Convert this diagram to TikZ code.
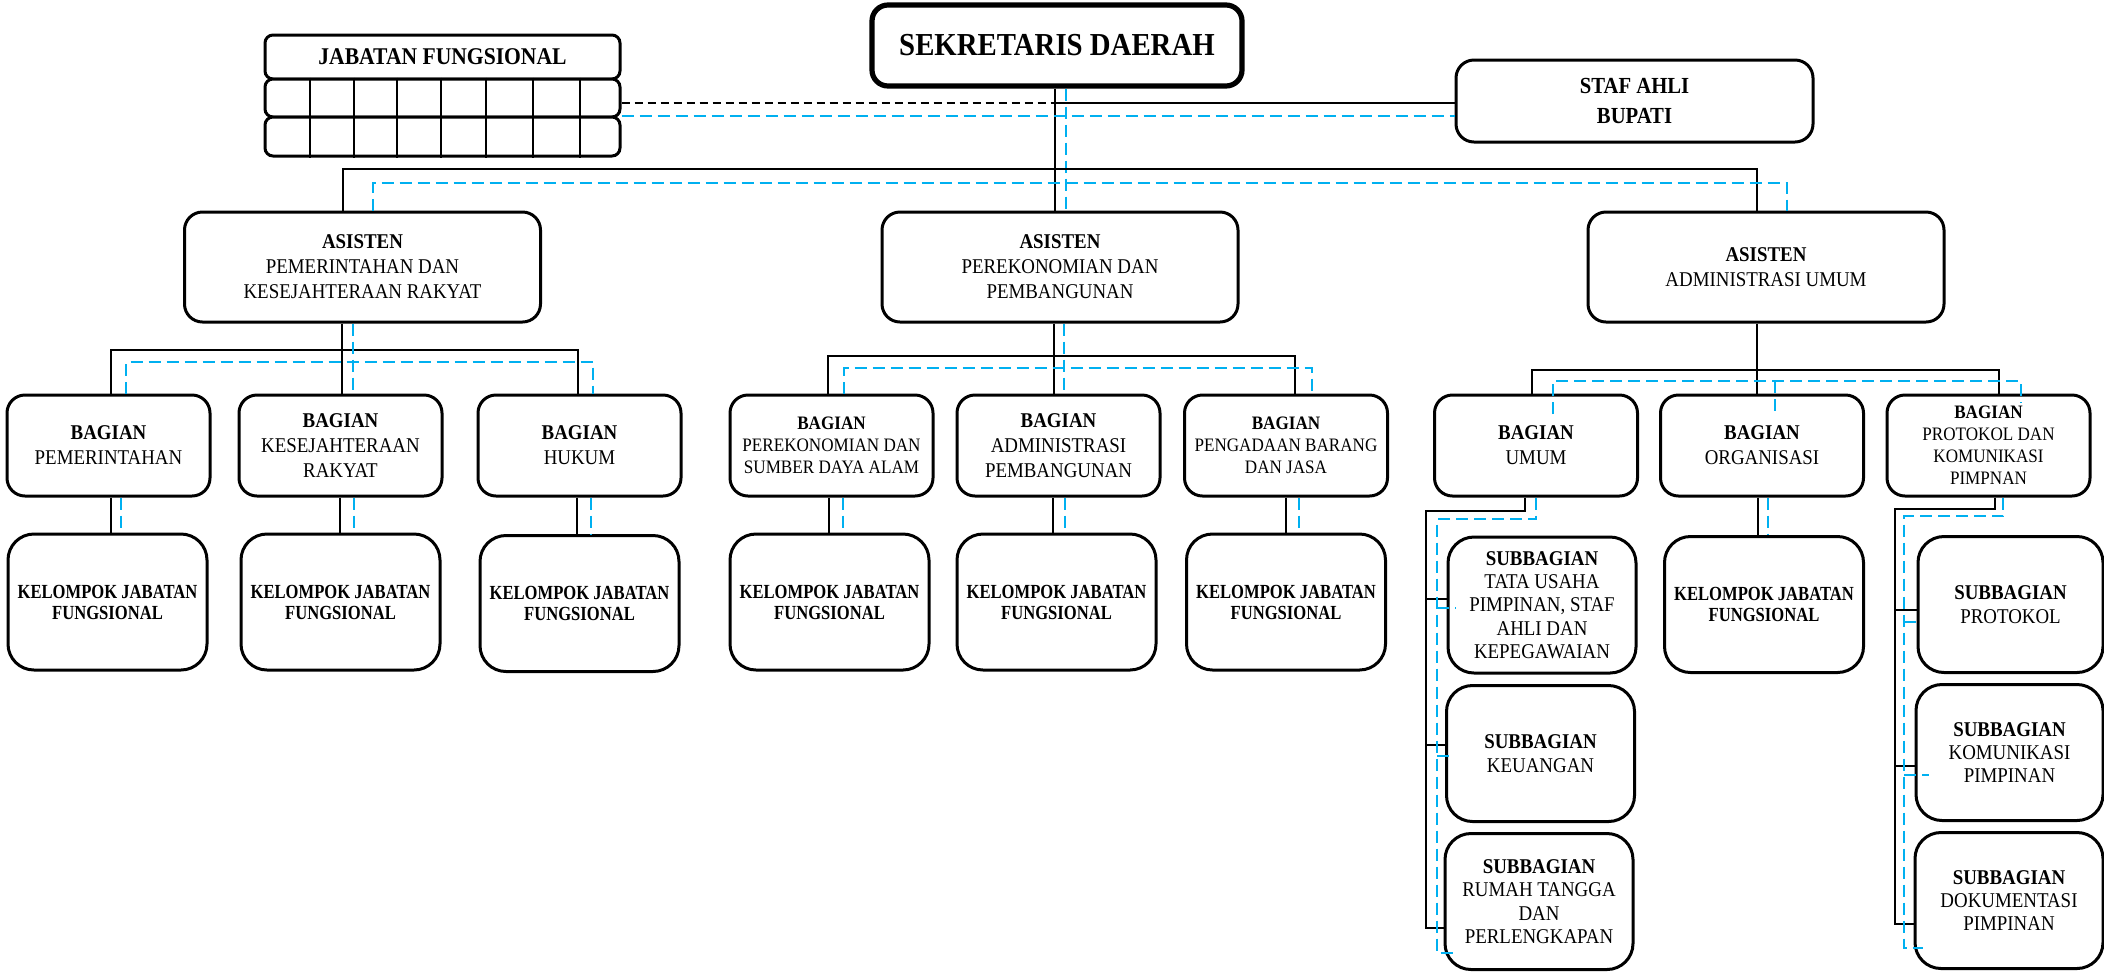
\documentclass[tikz,border=0pt]{standalone}
\usepackage{fontspec}
\setmainfont{Liberation Serif}[FakeStretch=0.9]
\newfontfamily\kfont{Liberation Serif}[FakeStretch=0.83]
\definecolor{lblue}{RGB}{0,176,240}
\begin{document}
\begin{tikzpicture}[x=0.5pt,y=-0.5pt,
  box/.style={draw, line width=1.5pt, rounded corners=9pt, fill=white, align=center, inner sep=1pt},
  jfbox/.style={draw, line width=1.5pt, rounded corners=4pt, fill=white, align=center, inner sep=0pt, minimum width=177.5pt},
  astyle/.style={box, minimum width=178pt, minimum height=55pt, font=\fontsize{10.5}{12.5}\selectfont},
  bstyle/.style={box, minimum width=101.5pt, minimum height=50.5pt, font=\fontsize{10.5}{12.5}\selectfont},
  bsmall/.style={bstyle, font=\fontsize{9.5}{11}\selectfont},
  kstyle/.style={box, rounded corners=13pt, minimum width=99.5pt, minimum height=68pt, font=\kfont\fontsize{10}{10.5}\selectfont\bfseries},
  sstyle/.style={box, rounded corners=13pt, minimum width=94pt, minimum height=68pt, font=\fontsize{10.5}{11.7}\selectfont},
  conn/.style={line width=1.2pt},
  bl/.style={draw=lblue, line width=1.2pt, dash pattern=on 6pt off 3pt},
  bdash/.style={line width=1.1pt, dash pattern=on 4pt off 2.5pt}]
\useasboundingbox (0,0) rectangle (2104,971);

% top level
\node[box, line width=2.6pt, rounded corners=8pt, minimum width=185pt, minimum height=40.5pt, font=\fontsize{16}{19}\selectfont\bfseries] (sekda) at (1057,45.5) {SEKRETARIS DAERAH};
\node[box, minimum width=178.5pt, minimum height=41pt, font=\fontsize{11.5}{14.7}\selectfont\bfseries] (staf) at (1634.5,101) {STAF AHLI\\BUPATI};
\node[jfbox, minimum height=22pt, font=\fontsize{12}{14}\selectfont\bfseries] (jf) at (442.5,57) {JABATAN FUNGSIONAL};
\node[jfbox, minimum height=19pt] (jf1) at (442.5,98) {};
\node[jfbox, minimum height=19.5pt] (jf2) at (442.5,136.5) {};
\foreach \x in {310,354,397,441,486,533,580} \draw[line width=1pt] (jf1.north -| \x,0) -- (jf2.south -| \x,0);

% asisten
\node[astyle] (a1) at (362.5,267) {\textbf{ASISTEN}\\PEMERINTAHAN DAN\\KESEJAHTERAAN RAKYAT};
\node[astyle] (a2) at (1060,267) {\textbf{ASISTEN}\\PEREKONOMIAN DAN\\PEMBANGUNAN};
\node[astyle] (a3) at (1766,267) {\textbf{ASISTEN}\\ADMINISTRASI UMUM};

% bagian
\node[bstyle] (b1) at (108.5,445.5) {\textbf{BAGIAN}\\PEMERINTAHAN};
\node[bstyle] (b2) at (340.5,445.5) {\textbf{BAGIAN}\\KESEJAHTERAAN\\RAKYAT};
\node[bstyle] (b3) at (579.5,445.5) {\textbf{BAGIAN}\\HUKUM};
\node[bsmall] (b4) at (831.5,445.5) {\textbf{BAGIAN}\\PEREKONOMIAN DAN\\SUMBER DAYA ALAM};
\node[bstyle] (b5) at (1058.5,445.5) {\textbf{BAGIAN}\\ADMINISTRASI\\PEMBANGUNAN};
\node[bsmall] (b6) at (1286,445.5) {\textbf{BAGIAN}\\PENGADAAN BARANG\\DAN JASA};
\node[bstyle] (b7) at (1536,445.5) {\textbf{BAGIAN}\\UMUM};
\node[bstyle] (b8) at (1762,445.5) {\textbf{BAGIAN}\\ORGANISASI};
\node[bsmall] (b9) at (1988.5,445.5) {\textbf{BAGIAN}\\PROTOKOL DAN\\KOMUNIKASI\\PIMPNAN};

% kelompok jabatan fungsional
\node[kstyle] (k1) at (107.5,602) {KELOMPOK JABATAN\\FUNGSIONAL};
\node[kstyle] (k2) at (340.5,602) {KELOMPOK JABATAN\\FUNGSIONAL};
\node[kstyle] (k3) at (579.5,603.5) {KELOMPOK JABATAN\\FUNGSIONAL};
\node[kstyle] (k4) at (829.5,602) {KELOMPOK JABATAN\\FUNGSIONAL};
\node[kstyle] (k5) at (1056.5,602) {KELOMPOK JABATAN\\FUNGSIONAL};
\node[kstyle] (k6) at (1286,602) {KELOMPOK JABATAN\\FUNGSIONAL};
\node[kstyle] (k7) at (1764,604.5) {KELOMPOK JABATAN\\FUNGSIONAL};

% subbagian
\node[sstyle] (s1) at (1542,605) {\textbf{SUBBAGIAN}\\TATA USAHA\\PIMPINAN, STAF\\AHLI DAN\\KEPEGAWAIAN};
\node[sstyle] (s2) at (1540.5,753.5) {\textbf{SUBBAGIAN}\\KEUANGAN};
\node[sstyle] (s3) at (1539,901.5) {\textbf{SUBBAGIAN}\\RUMAH TANGGA\\DAN\\PERLENGKAPAN};
\node[sstyle, minimum width=92.5pt] (s4) at (2010.5,604.5) {\textbf{SUBBAGIAN}\\PROTOKOL};
\node[sstyle, minimum width=93.5pt] (s5) at (2009.5,752.5) {\textbf{SUBBAGIAN}\\KOMUNIKASI\\PIMPINAN};
\node[sstyle] (s6) at (2009,900.5) {\textbf{SUBBAGIAN}\\DOKUMENTASI\\PIMPINAN};

% ---- connectors: top
\coordinate (sx) at (1055,103);
\coordinate (bx) at (1066,116);
\draw[conn] (sekda.south -| sx) -- (a2.north -| sx);
\draw[conn] (sx) -- (sx -| staf.west);
\draw[bdash] (sx -| jf1.east) -- (sx);
\draw[bl] (bx -| jf1.east) -- (bx -| staf.west);
\draw[bl] (sekda.south -| bx) -- (a2.north -| bx);
\coordinate (t1) at (343,169); \coordinate (t3) at (1757,169);
\draw[conn] (a1.north -| t1) -- (t1) -- (t3) -- (a3.north -| t3);
\coordinate (u1) at (373,183); \coordinate (u3) at (1787,183);
\draw[bl] (a1.north -| u1) -- (u1) -- (u3) -- (a3.north -| u3);

% ---- group 1
\draw[conn] (a1.south -| 342,0) -- (b2.north -| 342,0);
\draw[conn] (b1.north -| 111,0) -- (111,350) -- (578,350) -- (b3.north -| 578,0);
\draw[bl] (a1.south -| 353,0) -- (b2.north -| 353,0);
\draw[bl] (b1.north -| 126,0) -- (126,362) -- (593,362) -- (b3.north -| 593,0);
\draw[conn] (b1.south -| 111,0) -- (k1.north -| 111,0);
\draw[bl] (b1.south -| 121,0) -- (k1.north -| 121,0);
\draw[conn] (b2.south -| 340,0) -- (k2.north -| 340,0);
\draw[bl] (b2.south -| 354,0) -- (k2.north -| 354,0);
\draw[conn] (b3.south -| 577,0) -- (k3.north -| 577,0);
\draw[bl] (b3.south -| 591,0) -- (k3.north -| 591,0);

% ---- group 2
\draw[conn] (a2.south -| 1054,0) -- (b5.north -| 1054,0);
\draw[conn] (b4.north -| 828,0) -- (828,356) -- (1295,356) -- (b6.north -| 1295,0);
\draw[bl] (a2.south -| 1064,0) -- (b5.north -| 1064,0);
\draw[bl] (b4.north -| 844,0) -- (844,368) -- (1312,368) -- (b6.north -| 1312,0);
\draw[conn] (b4.south -| 829,0) -- (k4.north -| 829,0);
\draw[bl] (b4.south -| 843,0) -- (k4.north -| 843,0);
\draw[conn] (b5.south -| 1053,0) -- (k5.north -| 1053,0);
\draw[bl] (b5.south -| 1065,0) -- (k5.north -| 1065,0);
\draw[conn] (b6.south -| 1286,0) -- (k6.north -| 1286,0);
\draw[bl] (b6.south -| 1299,0) -- (k6.north -| 1299,0);

% ---- group 3
\draw[conn] (a3.south -| 1757,0) -- (b8.north -| 1757,0);
\draw[conn] (b7.north -| 1532,0) -- (1532,370) -- (1999,370) -- (b9.north -| 1999,0);
\draw[bl] (1553,414) -- (1553,381) -- (2021,381) -- (2021,403);
\draw[bl] (1775,381) -- (1775,412);
\draw[conn] (b8.south -| 1758,0) -- (k7.north -| 1758,0);
\draw[bl] (b8.south -| 1768,0) -- (k7.north -| 1768,0);

% umum subtree
\draw[conn] (b7.south -| 1525,0) -- (1525,511) -- (1426,511) -- (1426,928) -- (s3.west |- 0,928);
\draw[conn] (1426,599) -- (s1.west |- 0,599);
\draw[conn] (1426,745) -- (s2.west |- 0,745);
\draw[bl] (b7.south -| 1536,0) -- (1536,519) -- (1437,519) -- (1437,953) -- (1456,953);
\draw[bl] (1437,608) -- (1456,608);
\draw[bl] (1437,756) -- (1454,756);

% protokol subtree
\draw[conn] (b9.south -| 1995,0) -- (1995,509) -- (1895,509) -- (1895,924) -- (s6.west |- 0,924);
\draw[conn] (1895,610) -- (s4.west |- 0,610);
\draw[conn] (1895,766) -- (s5.west |- 0,766);
\draw[bl] (b9.south -| 2003,0) -- (2003,516) -- (1904,516) -- (1904,948) -- (1923,948);
\draw[bl] (1904,622) -- (1922,622);
\draw[bl] (1904,775) -- (1929,775);
\end{tikzpicture}
\end{document}
